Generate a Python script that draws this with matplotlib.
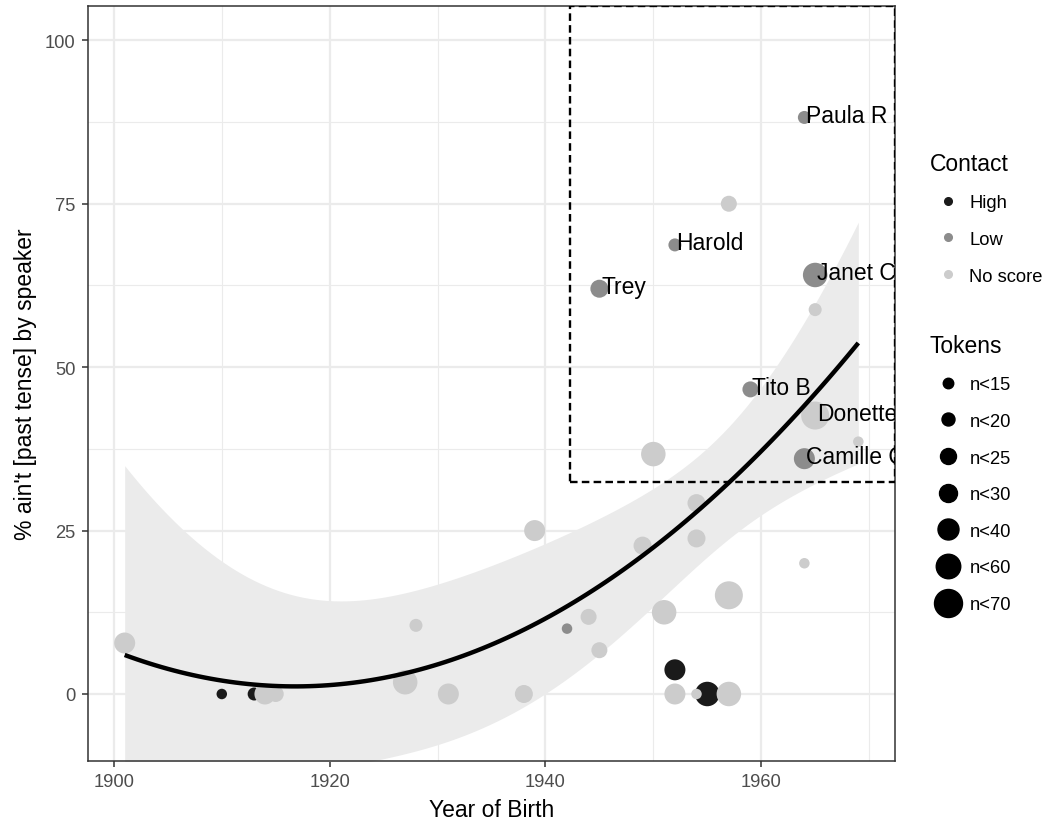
import numpy as np
import matplotlib
matplotlib.use("Agg")
import matplotlib.pyplot as plt
from matplotlib.lines import Line2D
from matplotlib.patches import Rectangle
from matplotlib.transforms import offset_copy

plt.rcParams['font.family'] = ['Liberation Sans', 'DejaVu Sans']

# --- data ---
year = [1910, 1913, 1952, 1955,
        1942, 1945, 1952, 1959, 1964, 1965, 1964,
        1901, 1914, 1915, 1927, 1928, 1931, 1938, 1939, 1944, 1945,
        1949, 1950, 1951, 1952, 1954, 1954, 1954, 1957, 1957, 1957,
        1965, 1965, 1964, 1969]
pct = [0, 0, 3.7, 0,
       10, 62, 68.7, 46.6, 88.2, 64.1, 36.0,
       7.8, 0, 0, 1.8, 10.5, 0, 0, 25, 11.8, 6.7,
       22.7, 36.7, 12.5, 0, 29.2, 23.8, 0, 15.1, 0, 75,
       58.8, 42.6, 20, 38.6]
contact = ["High"] * 4 + ["Low"] * 7 + ["No score"] * 24
# index into token_labels
tokens = [0, 1, 4, 5,
          0, 3, 1, 2, 1, 5, 4,
          4, 4, 2, 5, 1, 4, 3, 4, 2, 2,
          3, 5, 5, 4, 3, 3, 0, 6, 5, 2,
          1, 6, 0, 0]
speaker = ["", "", "", "",
           "", "Trey", "Harold", "Tito B", "Paula R", "Janet C", "Camille C",
           "", "", "", "", "", "", "", "", "", "",
           "", "", "", "", "", "", "", "", "", "",
           "", "Donette", "", ""]

contact_levels = ["High", "Low", "No score"]
contact_colors = ["#1a1a1a", "#8c8c8c", "#cccccc"]
token_labels = ["n<15", "n<20", "n<25", "n<30", "n<40", "n<60", "n<70"]
token_diam = [10.5, 13, 16, 18, 21, 24.5, 28]   # marker diameter in px

box_xmin, box_ymin = 1942.25, 32.5

x = np.array(year, float)
y = np.array(pct, float)
tok = np.array(tokens)
cont = np.array(contact)

# quadratic lm smooth with 95% band (like geom_smooth(method="lm", y ~ poly(x, 2)))
xc = x - x.mean()
X = np.column_stack([np.ones_like(xc), xc, xc ** 2])
beta, *_ = np.linalg.lstsq(X, y, rcond=None)
resid = y - X @ beta
s2 = resid @ resid / (len(y) - 3)
cov = s2 * np.linalg.inv(X.T @ X)
xs = np.linspace(x.min(), x.max(), 120)
xsc = xs - x.mean()
Xs = np.column_stack([np.ones_like(xsc), xsc, xsc ** 2])
fit = Xs @ beta
se = np.sqrt(np.einsum('ij,jk,ik->i', Xs, cov, Xs))
tq = 2.037  # t(0.975, df=32)

fig = plt.figure(figsize=(10.51, 8.2), dpi=100)
ax = fig.add_axes([88 / 1051, 1 - 762 / 820, (895 - 88) / 1051, (762 - 7) / 820])

ax.fill_between(xs, fit - tq * se, fit + tq * se, color="#ebebeb", lw=0, zorder=1)

px2pt = 0.72
for lev, col in zip(contact_levels, contact_colors):
    m = cont == lev
    sizes = [(token_diam[t] * px2pt) ** 2 for t in tok[m]]
    ax.scatter(x[m], y[m], s=sizes, color=col, lw=0, zorder=3)

ax.plot(xs, fit, color="black", lw=3.2, zorder=4, solid_capstyle="butt")

xlim = (1897.6, 1972.4)
ylim = (-10.25, 105.25)
ax.set_xlim(*xlim)
ax.set_ylim(*ylim)

ax.add_patch(Rectangle((box_xmin, box_ymin), xlim[1] - box_xmin, ylim[1] - box_ymin,
                       fill=False, ls=(0, (3.2, 1.8)), lw=1.7, ec="black", zorder=5))

# speaker names, clipped at the panel edge like in ggplot
lab_tr = offset_copy(ax.transData, fig=fig, x=1.2, y=-3, units="points")
for xi, yi, name in zip(x, y, speaker):
    if name:
        ax.text(xi, yi, name, transform=lab_tr, ha="left", va="baseline",
                fontsize=16.5, color="black", zorder=6, clip_on=True)

# theme_bw look
ax.set_xticks([1900, 1920, 1940, 1960])
ax.set_yticks([0, 25, 50, 75, 100])
ax.set_xticks([1910, 1930, 1950, 1970], minor=True)
ax.set_yticks([12.5, 37.5, 62.5, 87.5], minor=True)
ax.grid(which="major", color="#ebebeb", lw=1.6, zorder=0)
ax.grid(which="minor", color="#ebebeb", lw=0.8, zorder=0)
ax.set_axisbelow(True)
ax.tick_params(which="major", length=4, width=1.1, color="#333333",
               labelsize=13.2, labelcolor="#4d4d4d", pad=5)
ax.tick_params(which="minor", length=0)
for sp in ax.spines.values():
    sp.set_color("#333333")
    sp.set_linewidth(1.1)

ax.set_xlabel("Year of Birth", fontsize=16.5, labelpad=5.5)
ax.set_ylabel("% ain't [past tense] by speaker", fontsize=16.5, labelpad=6)

# legends
h_contact = [Line2D([], [], ls="none", marker="o", ms=5.5, mfc=c, mec=c)
             for c in contact_colors]
fig.legend(h_contact, contact_levels, title="Contact", loc="upper left",
           bbox_to_anchor=(915 / 1051, 1 - 138 / 820), frameon=False,
           fontsize=13.2, title_fontsize=16.5, alignment="left",
           labelspacing=1.07, handlelength=1.95, handletextpad=0.22,
           borderpad=0.3)

h_tok = [Line2D([], [], ls="none", marker="o", ms=d * px2pt, mfc="black", mec="black")
         for d in token_diam]
fig.legend(h_tok, token_labels, title="Tokens", loc="upper left",
           bbox_to_anchor=(915 / 1051, 1 - 320 / 820), frameon=False,
           fontsize=13.2, title_fontsize=16.5, alignment="left",
           labelspacing=1.07, handlelength=1.95, handletextpad=0.22,
           borderpad=0.3)

fig.savefig("out.png", dpi=100)
